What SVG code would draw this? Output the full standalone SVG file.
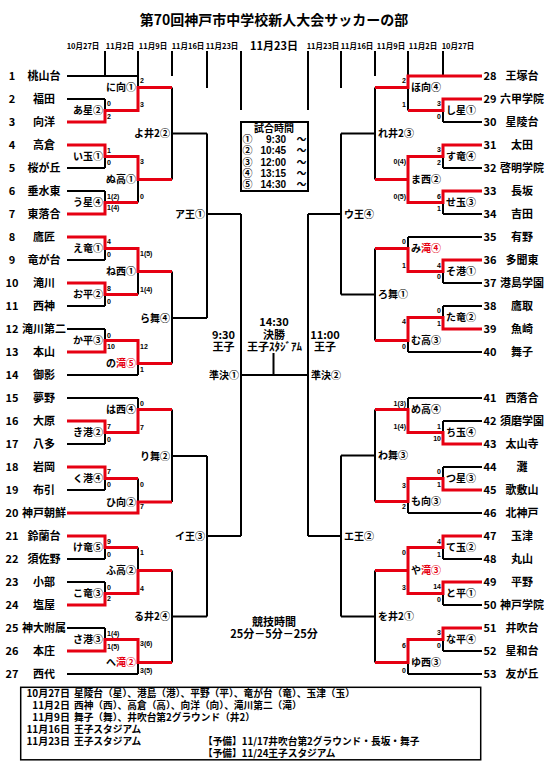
<svg xmlns="http://www.w3.org/2000/svg" width="551" height="778" viewBox="0 0 551 778">
<style>
text{font-family:"Noto Sans CJK JP","Noto Sans",sans-serif;font-weight:bold;fill:#000}
.bk{stroke:#000;stroke-width:2;fill:none}
.rd{stroke:#e60012;stroke-width:3;fill:none}
.box{stroke:#000;stroke-width:2;fill:#fff}
.lbox{stroke:#000;stroke-width:1.5;fill:none}
.ttl{font-size:14px;text-anchor:middle}
.hd{font-size:7.5px;text-anchor:middle}
.hb{font-size:11px;text-anchor:middle}
.no{font-size:11px;text-anchor:middle}
.nm{font-size:11px;text-anchor:middle}
.ml{font-size:10px;text-anchor:end}
.mr{font-size:10px;text-anchor:start}
.sl{font-family:"Liberation Sans",sans-serif;font-size:7px;text-anchor:start}
.sr{font-family:"Liberation Sans",sans-serif;font-size:7px;text-anchor:end}
.red{fill:#e60012}
.c{font-size:11px;text-anchor:middle}
.bx{font-size:10px;text-anchor:middle}
.tm{font-family:"Liberation Sans",sans-serif;font-size:10px;text-anchor:end}
.lg{font-size:9.7px}
.ld{font-size:10px;text-anchor:end}
</style>
<rect width="551" height="778" fill="#fff"/>
<text class="ttl" x="274" y="25">第70回神戸市中学校新人大会サッカーの部</text>
<g id="header">
<text class="hd" x="83" y="49">10月27日</text>
<text class="hd" x="120" y="49">11月2日</text>
<text class="hd" x="153" y="49">11月9日</text>
<text class="hd" x="188" y="49">11月16日</text>
<text class="hd" x="222" y="49">11月23日</text>
<text class="hb" x="274" y="50">11月23日</text>
<text class="hd" x="323" y="49">11月23日</text>
<text class="hd" x="357" y="49">11月16日</text>
<text class="hd" x="391" y="49">11月9日</text>
<text class="hd" x="423" y="49">11月2日</text>
<text class="hd" x="458" y="49">10月27日</text>
</g>
<g id="connectors">
<path class="bk" d="M105 51V76M172 51V76M207 51V88M241 51V110M443 51V76M408 51V76M375 51V76M341 51V88M308 51V110"/>
<path class="bk" d="M67 76H138M67 99H105M67 122H105M67 145H105M67 168H105M67 191H105M67 214H105M67 237H105M67 260H105M67 283H105M67 306H105M67 329H105M67 352H105M67 375H138M67 398H138M67 421H105M67 444H105M67 467H105M67 490H105M67 513H138M67 536H105M67 559H105M67 582H105M67 605H105M67 628H105M67 651H105M67 674H138"/>
<path class="bk" d="M105 99V122M105 110.5H138M105 145V168M105 156.5H138M105 191V214M105 202.5H138M105 237V260M105 248.5H138M105 283V306M105 294.5H138M105 329V352M105 340.5H138M105 421V444M105 432.5H138M105 467V490M105 478.5H138M105 536V559M105 547.5H138M105 582V605M105 593.5H138M105 628V651M105 639.5H138"/>
<path class="bk" d="M138 51V110.5M138 87.5H172M138 156.5V202.5M138 179.5H172M138 248.5V294.5M138 271.5H172M138 340.5V375M138 363.5H172M138 398V432.5M138 409.5H172M138 478.5V513M138 502H172M138 547.5V593.5M138 570.5H172M138 639.5V674M138 662.5H172"/>
<path class="bk" d="M172 87.5V179.5M172 133.5H207M172 271.5V363.5M172 318H207M172 409.5V502M172 456H207M172 570.5V662.5M172 616.5H207"/>
<path class="bk" d="M207 133.5V318M207 214H241M207 456V616.5M207 536H241M241 214V536M241 375H308M273.5 353V375"/>
<path class="bk" d="M408 76H482M443 99H482M443 122H482M443 145H482M443 168H482M443 191H482M443 214H482M408 237H482M443 260H482M443 283H482M443 306H482M443 329H482M408 352H482M408 398H482M443 421H482M443 444H482M443 467H482M443 490H482M408 513H482M443 536H482M443 559H482M443 582H482M443 605H482M443 628H482M443 651H482M408 674H482"/>
<path class="bk" d="M443 99V122M443 110.5H408M443 145V168M443 156.5H408M443 191V214M443 202.5H408M443 260V283M443 271.5H408M443 306V329M443 317.5H408M443 421V444M443 432.5H408M443 467V490M443 478.5H408M443 536V559M443 547.5H408M443 582V605M443 593.5H408M443 628V651M443 639.5H408"/>
<path class="bk" d="M408 76V110.5M408 87.5H375M408 156.5V202.5M408 179.5H375M408 237V271.5M408 248.5H375M408 317.5V352M408 340.5H375M408 398V432.5M408 409.5H375M408 478.5V513M408 501.5H375M408 547.5V593.5M408 570.5H375M408 639.5V674M408 662.5H375"/>
<path class="bk" d="M375 87.5V179.5M375 133.5H341M375 248.5V340.5M375 294.5H341M375 409.5V501.5M375 455.5H341M375 570.5V662.5M375 616.5H341M341 133.5V294.5M341 214H308M341 455.5V616.5M341 536H308M308 214V536"/>
<path class="rd" d="M67 122H105V110.5H138V87.5H172M67 145H105V156.5H138V179.5H172M67 214H105V202.5H138M67 237H105V248.5H138V271.5H172M67 283H105V294.5H138M67 352H105V340.5H138V363.5H172M67 421H105V432.5H138V409.5H172M67 467H105V478.5H138M67 513H138V502H172M67 536H105V547.5H138M67 605H105V593.5H138V570.5H172M67 651H105V639.5H138V662.5H172"/>
<path class="rd" d="M482 76H408V87.5H375M482 99H443V110.5H408M482 145H443V156.5H408V179.5H375M482 191H443V202.5H408V179.5M482 260H443V271.5H408V248.5H375M482 329H443V317.5H408V340.5H375M482 444H443V432.5H408V409.5H375M482 490H443V478.5H408V501.5H375M482 536H443V547.5H408V570.5H375M482 582H443V593.5H408V570.5M482 628H443V639.5H408V662.5H375"/>
</g>
<g id="teams-left">
<g id="t1"><text class="no" x="12" y="80">1</text><text class="nm" x="44" y="80">桃山台</text></g>
<g id="t2"><text class="no" x="12" y="103">2</text><text class="nm" x="44" y="103">福田</text></g>
<g id="t3"><text class="no" x="12" y="126">3</text><text class="nm" x="44" y="126">向洋</text></g>
<g id="t4"><text class="no" x="12" y="149">4</text><text class="nm" x="44" y="149">高倉</text></g>
<g id="t5"><text class="no" x="12" y="172">5</text><text class="nm" x="44" y="172">桜が丘</text></g>
<g id="t6"><text class="no" x="12" y="195">6</text><text class="nm" x="44" y="195">垂水東</text></g>
<g id="t7"><text class="no" x="12" y="218">7</text><text class="nm" x="44" y="218">東落合</text></g>
<g id="t8"><text class="no" x="12" y="241">8</text><text class="nm" x="44" y="241">鷹匠</text></g>
<g id="t9"><text class="no" x="12" y="264">9</text><text class="nm" x="44" y="264">竜が台</text></g>
<g id="t10"><text class="no" x="12" y="287">10</text><text class="nm" x="44" y="287">滝川</text></g>
<g id="t11"><text class="no" x="12" y="310">11</text><text class="nm" x="44" y="310">西神</text></g>
<g id="t12"><text class="no" x="12" y="333">12</text><text class="nm" x="44" y="333">滝川第二</text></g>
<g id="t13"><text class="no" x="12" y="356">13</text><text class="nm" x="44" y="356">本山</text></g>
<g id="t14"><text class="no" x="12" y="379">14</text><text class="nm" x="44" y="379">御影</text></g>
<g id="t15"><text class="no" x="12" y="402">15</text><text class="nm" x="44" y="402">夢野</text></g>
<g id="t16"><text class="no" x="12" y="425">16</text><text class="nm" x="44" y="425">大原</text></g>
<g id="t17"><text class="no" x="12" y="448">17</text><text class="nm" x="44" y="448">八多</text></g>
<g id="t18"><text class="no" x="12" y="471">18</text><text class="nm" x="44" y="471">岩岡</text></g>
<g id="t19"><text class="no" x="12" y="494">19</text><text class="nm" x="44" y="494">布引</text></g>
<g id="t20"><text class="no" x="12" y="517">20</text><text class="nm" x="44" y="517">神戸朝鮮</text></g>
<g id="t21"><text class="no" x="12" y="540">21</text><text class="nm" x="44" y="540">鈴蘭台</text></g>
<g id="t22"><text class="no" x="12" y="563">22</text><text class="nm" x="44" y="563">須佐野</text></g>
<g id="t23"><text class="no" x="12" y="586">23</text><text class="nm" x="44" y="586">小部</text></g>
<g id="t24"><text class="no" x="12" y="609">24</text><text class="nm" x="44" y="609">塩屋</text></g>
<g id="t25"><text class="no" x="12" y="632">25</text><text class="nm" x="44" y="632">神大附属</text></g>
<g id="t26"><text class="no" x="12" y="655">26</text><text class="nm" x="44" y="655">本庄</text></g>
<g id="t27"><text class="no" x="12" y="678">27</text><text class="nm" x="44" y="678">西代</text></g>
</g>
<g id="teams-right">
<g id="t28"><text class="no" x="490" y="80">28</text><text class="nm" x="522" y="80">王塚台</text></g>
<g id="t29"><text class="no" x="490" y="103">29</text><text class="nm" x="522" y="103">六甲学院</text></g>
<g id="t30"><text class="no" x="490" y="126">30</text><text class="nm" x="522" y="126">星陵台</text></g>
<g id="t31"><text class="no" x="490" y="149">31</text><text class="nm" x="522" y="149">太田</text></g>
<g id="t32"><text class="no" x="490" y="172">32</text><text class="nm" x="522" y="172">啓明学院</text></g>
<g id="t33"><text class="no" x="490" y="195">33</text><text class="nm" x="522" y="195">長坂</text></g>
<g id="t34"><text class="no" x="490" y="218">34</text><text class="nm" x="522" y="218">吉田</text></g>
<g id="t35"><text class="no" x="490" y="241">35</text><text class="nm" x="522" y="241">有野</text></g>
<g id="t36"><text class="no" x="490" y="264">36</text><text class="nm" x="522" y="264">多聞東</text></g>
<g id="t37"><text class="no" x="490" y="287">37</text><text class="nm" x="522" y="287">港島学園</text></g>
<g id="t38"><text class="no" x="490" y="310">38</text><text class="nm" x="522" y="310">鷹取</text></g>
<g id="t39"><text class="no" x="490" y="333">39</text><text class="nm" x="522" y="333">魚崎</text></g>
<g id="t40"><text class="no" x="490" y="356">40</text><text class="nm" x="522" y="356">舞子</text></g>
<g id="t41"><text class="no" x="490" y="402">41</text><text class="nm" x="522" y="402">西落合</text></g>
<g id="t42"><text class="no" x="490" y="425">42</text><text class="nm" x="522" y="425">須磨学園</text></g>
<g id="t43"><text class="no" x="490" y="448">43</text><text class="nm" x="522" y="448">太山寺</text></g>
<g id="t44"><text class="no" x="490" y="471">44</text><text class="nm" x="522" y="471">灘</text></g>
<g id="t45"><text class="no" x="490" y="494">45</text><text class="nm" x="522" y="494">歌敷山</text></g>
<g id="t46"><text class="no" x="490" y="517">46</text><text class="nm" x="522" y="517">北神戸</text></g>
<g id="t47"><text class="no" x="490" y="540">47</text><text class="nm" x="522" y="540">玉津</text></g>
<g id="t48"><text class="no" x="490" y="563">48</text><text class="nm" x="522" y="563">丸山</text></g>
<g id="t49"><text class="no" x="490" y="586">49</text><text class="nm" x="522" y="586">平野</text></g>
<g id="t50"><text class="no" x="490" y="609">50</text><text class="nm" x="522" y="609">神戸学院</text></g>
<g id="t51"><text class="no" x="490" y="632">51</text><text class="nm" x="522" y="632">井吹台</text></g>
<g id="t52"><text class="no" x="490" y="655">52</text><text class="nm" x="522" y="655">星和台</text></g>
<g id="t53"><text class="no" x="490" y="678">53</text><text class="nm" x="522" y="678">友が丘</text></g>
</g>
<g id="matches-left">
<g id="m-a"><text class="ml" x="103" y="114">あ星②</text><text class="sl" x="107" y="105.8">0</text><text class="sl" x="107" y="118.5">2</text></g>
<g id="m-i"><text class="ml" x="103" y="160">い玉①</text><text class="sl" x="107" y="152.5">1</text><text class="sl" x="107" y="165.2">0</text></g>
<g id="m-u"><text class="ml" x="103" y="206">う星④</text><text class="sl" x="107" y="198.5">1(2)</text><text class="sl" x="107" y="209.8">1(4)</text></g>
<g id="m-e"><text class="ml" x="103" y="252">え竜①</text><text class="sl" x="107" y="243.5">4</text><text class="sl" x="107" y="256.5">0</text></g>
<g id="m-o"><text class="ml" x="103" y="298">お平②</text><text class="sl" x="107" y="290.8">8</text><text class="sl" x="107" y="303.5">0</text></g>
<g id="m-ka"><text class="ml" x="103" y="344">か平③</text><text class="sl" x="107" y="337.5">0</text><text class="sl" x="107" y="348.5">10</text></g>
<g id="m-ki"><text class="ml" x="103" y="436">き港②</text><text class="sl" x="107" y="428.5">7</text><text class="sl" x="107" y="441.5">0</text></g>
<g id="m-ku"><text class="ml" x="103" y="482">く港④</text><text class="sl" x="107" y="473.5">7</text><text class="sl" x="107" y="486.5">0</text></g>
<g id="m-ke"><text class="ml" x="103" y="551">け竜⑤</text><text class="sl" x="107" y="544.2">9</text><text class="sl" x="107" y="556.5">0</text></g>
<g id="m-ko"><text class="ml" x="103" y="597">こ竜③</text><text class="sl" x="107" y="589.5">0</text><text class="sl" x="107" y="600.8">2</text></g>
<g id="m-sa"><text class="ml" x="103" y="643">さ港③</text><text class="sl" x="107" y="635.8">1(4)</text><text class="sl" x="107" y="648.5">1(5)</text></g>
<g id="m-ni"><text class="ml" x="136" y="91">に向①</text><text class="sl" x="140" y="82.5">2</text><text class="sl" x="140" y="106.5">3</text></g>
<g id="m-nu"><text class="ml" x="136" y="183">ぬ高①</text><text class="sl" x="140" y="164.2">3</text><text class="sl" x="140" y="198.5">0</text></g>
<g id="m-ne"><text class="ml" x="136" y="275">ね西①</text><text class="sl" x="140" y="255.8">1(5)</text><text class="sl" x="140" y="291.8">1(4)</text></g>
<g id="m-no"><text class="ml" x="136" y="367">の<tspan class="red">滝⑤</tspan></text><text class="sl" x="140" y="348.5">12</text><text class="sl" x="140" y="371.5">1</text></g>
<g id="m-ha"><text class="ml" x="136" y="413">は西④</text><text class="sl" x="140" y="405.8">0</text><text class="sl" x="140" y="430.2">7</text></g>
<g id="m-hi"><text class="ml" x="136" y="505.5">ひ向②</text><text class="sl" x="140" y="486.5">0</text><text class="sl" x="140" y="509.2">7</text></g>
<g id="m-fu"><text class="ml" x="136" y="574">ふ高②</text><text class="sl" x="140" y="555.2">1</text><text class="sl" x="140" y="590.8">4</text></g>
<g id="m-he"><text class="ml" x="136" y="666">へ<tspan class="red">滝②</tspan></text><text class="sl" x="140" y="645.8">3(6)</text><text class="sl" x="140" y="672.5">3(5)</text></g>
<g id="m-yo"><text class="ml" x="170" y="137">よ井2②</text></g>
<g id="m-ra"><text class="ml" x="170" y="321.5">ら舞④</text></g>
<g id="m-ri"><text class="ml" x="170" y="459.5">り舞②</text></g>
<g id="m-ru"><text class="ml" x="170" y="620">る井2④</text></g>
<g id="m-A"><text class="ml" x="205" y="217.5">ア王①</text></g>
<g id="m-I"><text class="ml" x="205" y="539.5">イ王③</text></g>
<g id="m-sf1"><text class="ml" x="239" y="378.5">準決①</text></g>
</g>
<g id="matches-right">
<g id="m-shi"><text class="mr" x="446" y="114">し星①</text><text class="sr" x="441" y="105.8">3</text><text class="sr" x="441" y="118.5">0</text></g>
<g id="m-su"><text class="mr" x="446" y="160">す竜④</text><text class="sr" x="441" y="151.8">3</text><text class="sr" x="441" y="165.2">2</text></g>
<g id="m-se"><text class="mr" x="446" y="206">せ玉③</text><text class="sr" x="441" y="198.5">6</text><text class="sr" x="441" y="210.8">1</text></g>
<g id="m-so"><text class="mr" x="446" y="275">そ港①</text><text class="sr" x="441" y="267.5">4</text><text class="sr" x="441" y="279.2">0</text></g>
<g id="m-ta"><text class="mr" x="446" y="321">た竜②</text><text class="sr" x="441" y="313.2">0</text><text class="sr" x="441" y="325.8">1</text></g>
<g id="m-chi"><text class="mr" x="446" y="436">ち玉④</text><text class="sr" x="441" y="428.5">1</text><text class="sr" x="441" y="440.8">10</text></g>
<g id="m-tsu"><text class="mr" x="446" y="482">つ星③</text><text class="sr" x="441" y="474.2">0</text><text class="sr" x="441" y="486.5">1</text></g>
<g id="m-te"><text class="mr" x="446" y="551">て玉②</text><text class="sr" x="441" y="544.2">4</text><text class="sr" x="441" y="556.5">1</text></g>
<g id="m-to"><text class="mr" x="446" y="597">と平①</text><text class="sr" x="441" y="589.2">14</text><text class="sr" x="441" y="601.5">0</text></g>
<g id="m-na"><text class="mr" x="446" y="643">な平④</text><text class="sr" x="441" y="635.2">3</text><text class="sr" x="441" y="647.5">0</text></g>
<g id="m-ho"><text class="mr" x="411" y="91">ほ向④</text><text class="sr" x="406" y="82.5">2</text><text class="sr" x="406" y="106.5">1</text></g>
<g id="m-ma"><text class="mr" x="411" y="183">ま西②</text><text class="sr" x="406" y="164.2">0(4)</text><text class="sr" x="406" y="198.5">0(5)</text></g>
<g id="m-mi"><text class="mr" x="411" y="252">み<tspan class="red">滝④</tspan></text><text class="sr" x="406" y="244.2">0</text><text class="sr" x="406" y="267.5">1</text></g>
<g id="m-mu"><text class="mr" x="411" y="344">む高③</text><text class="sr" x="406" y="324.2">4</text><text class="sr" x="406" y="348.5">0</text></g>
<g id="m-me"><text class="mr" x="411" y="413">め高④</text><text class="sr" x="406" y="405.8">1(3)</text><text class="sr" x="406" y="429.2">1(4)</text></g>
<g id="m-mo"><text class="mr" x="411" y="505">も向③</text><text class="sr" x="406" y="487.5">3</text><text class="sr" x="406" y="509.2">2</text></g>
<g id="m-ya"><text class="mr" x="411" y="574">や<tspan class="red">滝③</tspan></text><text class="sr" x="406" y="555.2">0</text><text class="sr" x="406" y="589.8">3</text></g>
<g id="m-yu"><text class="mr" x="411" y="666">ゆ西③</text><text class="sr" x="406" y="647.5">6</text><text class="sr" x="406" y="672.5">0</text></g>
<g id="m-re"><text class="mr" x="378" y="137">れ井2③</text></g>
<g id="m-ro"><text class="mr" x="378" y="298">ろ舞①</text></g>
<g id="m-wa"><text class="mr" x="378" y="459">わ舞③</text></g>
<g id="m-wo"><text class="mr" x="378" y="620">を井2①</text></g>
<g id="m-U"><text class="mr" x="344" y="217.5">ウ王④</text></g>
<g id="m-E"><text class="mr" x="344" y="539.5">エ王②</text></g>
<g id="m-sf2"><text class="mr" x="311" y="378.5">準決②</text></g>
</g>
<g id="final">
<text class="c" x="274" y="325.5">14:30</text>
<text class="c" x="274" y="339">決勝</text>
<text class="c" x="274.5" y="351">王子ｽﾀｼﾞｱﾑ</text>
<text class="c" x="223.5" y="339">9:30</text>
<text class="c" x="223.5" y="351">王子</text>
<text class="c" x="325" y="339">11:00</text>
<text class="c" x="325" y="351">王子</text>
</g>
<g id="time-box">
<rect class="box" x="241" y="122" width="67" height="69"/>
<text class="bx" x="274" y="131.5">試合時間</text>
<text class="bx" x="247.5" y="142.5">①</text><text class="bx" x="247.5" y="154">②</text><text class="bx" x="247.5" y="165.5">③</text><text class="bx" x="247.5" y="177">④</text><text class="bx" x="247.5" y="188">⑤</text>
<text class="tm" x="286" y="142.5">9:30</text><text class="tm" x="286" y="154">10:45</text><text class="tm" x="286" y="165.5">12:00</text><text class="tm" x="286" y="177">13:15</text><text class="tm" x="286" y="188">14:30</text>
<text class="bx" x="301.5" y="142.5">～</text><text class="bx" x="301.5" y="154">～</text><text class="bx" x="301.5" y="165.5">～</text><text class="bx" x="301.5" y="177">～</text><text class="bx" x="301.5" y="188">～</text>
</g>
<g id="game-time">
<text class="c" x="274" y="626">競技時間</text>
<text class="c" x="274" y="638">25分－5分－25分</text>
</g>
<g id="legend">
<rect class="lbox" x="20.7" y="687.3" width="460" height="72.5"/>
<text class="ld" x="70" y="697">10月27日</text><text class="lg" x="74" y="697">星陵台（星）、港島（港）、平野（平）、竜が台（竜）、玉津（玉）</text>
<text class="ld" x="70" y="709">11月2日</text><text class="lg" x="74" y="709">西神（西）、高倉（高）、向洋（向）、滝川第二（滝）</text>
<text class="ld" x="70" y="721">11月9日</text><text class="lg" x="74" y="721">舞子（舞）、井吹台第2グラウンド（井2）</text>
<text class="ld" x="70" y="733">11月16日</text><text class="lg" x="74" y="733">王子スタジアム</text>
<text class="ld" x="70" y="745">11月23日</text><text class="lg" x="74" y="745">王子スタジアム</text>
<text class="lg" x="203" y="745">【予備】11/17井吹台第2グラウンド・長坂・舞子</text>
<text class="lg" x="203" y="757">【予備】11/24王子スタジアム</text>
</g>
</svg>
